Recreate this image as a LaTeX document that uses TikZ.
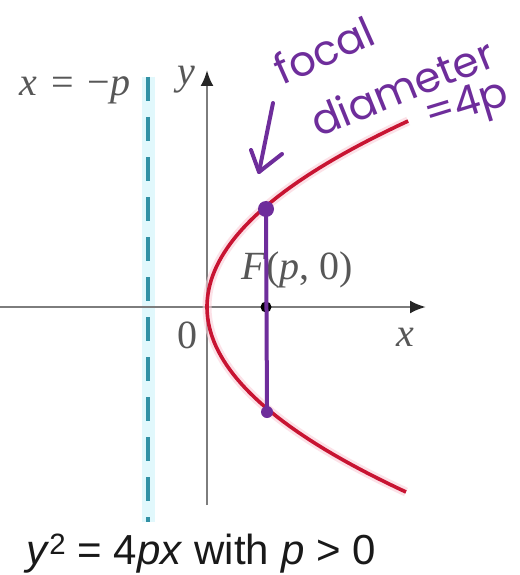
\documentclass[tikz,border=0pt]{standalone}
\usepackage{fontspec}
\setmainfont{Liberation Serif}
\newfontfamily\hand{Poppins}
\newfontfamily\capfont{Liberation Sans}
\usetikzlibrary{arrows.meta}
\definecolor{axisgray}{RGB}{125,125,125}
\definecolor{parred}{RGB}{200,20,50}
\definecolor{pinkglow}{RGB}{250,205,215}
\definecolor{dirteal}{RGB}{50,145,165}
\definecolor{cyanglow}{RGB}{225,248,252}
\definecolor{purp}{RGB}{110,45,155}
\tikzset{
  axisline/.style={draw=axisgray, line width=2.6pt, -{Latex[length=16pt,width=13pt,color=black!85]}},
  directrix/.style={draw=dirteal, line width=4pt, dash pattern=on 24pt off 16pt},
  parab/.style={draw=parred, line width=3.6pt},
  pen/.style={draw=purp, line width=4pt, line cap=round, line join=round},
  mathlbl/.style={font=\fontsize{40}{40}\selectfont, text=black!66, inner sep=0pt},
  handtxt/.style={font=\hand\fontsize{42}{42}\selectfont, text=purp, inner sep=0pt},
}
\begin{document}
\begin{tikzpicture}[x=1pt,y=-1pt]
\useasboundingbox (0,0) rectangle (519,575);
\fill[white] (0,0) rectangle (519,575);
% coordinates
\coordinate (ybot) at (207,505);
\coordinate (ytop) at (207,70);
\coordinate (xl) at (0,307);
\coordinate (xr) at (426,307);
\coordinate (dtop) at (148,77);
\coordinate (dbot) at (148,522);
\coordinate (F) at (266,307);
\coordinate (P1) at (266,209);
\coordinate (P2) at (267,412);
% directrix
\draw[cyanglow, line width=13pt] (dtop) -- (dbot);
\draw[directrix] (dtop) -- (dbot);
% axes
\draw[axisline] (ybot) -- (ytop);
\draw[axisline] (xl) -- (xr);
% parabola
\draw[pinkglow, line width=9pt, opacity=0.6] plot[domain=-186:185, samples=80, variable=\t] ({207+(\t/13.115)*(\t/13.115)},{307+\t});
\draw[parab] plot[domain=-186:185, samples=80, variable=\t] ({207+(\t/13.115)*(\t/13.115)},{307+\t});
% focus
\fill[black] (F) circle (5.5pt);
% labels
\node[mathlbl] (dirlbl) at (75,90) {\textit{x}\hspace{0.35em}=\hspace{0.35em}−\textit{p}};
\node[mathlbl] (ylbl) at (186,80) {\textit{y}};
\node[mathlbl] (olbl) at (187,335) {0};
\node[mathlbl] (xlbl) at (405,337) {\textit{x}};
\node[mathlbl] (flbl) at (297,270) {\textit{F}(\textit{p}, 0)};
% bottom caption
\node[font=\capfont\fontsize{42}{42}\selectfont, anchor=base west, inner sep=0pt, text=black!90] (cap) at (26,564)
  {\textit{y}\textsuperscript{2} = 4\textit{px} with \textit{p} > 0};
% purple annotation
\draw[pen] (P1) -- (P2);
\fill[purp] (P1) circle (8pt);
\fill[purp] (P2) circle (6pt);
\coordinate (ashaft) at (273,103);
\coordinate (atip) at (259,172);
\coordinate (awl) at (251,150);
\coordinate (awr) at (282,154);
\draw[pen] (ashaft) -- (atip);
\draw[pen] (awl) -- (atip) -- (awr);
\node[handtxt, rotate=24] (focal) at (324,50) {focal};
\node[handtxt, rotate=22] (diam) at (402,87) {diameter};
\node[handtxt, rotate=17] (eq) at (467,107) {=4p};
\end{tikzpicture}
\end{document}
